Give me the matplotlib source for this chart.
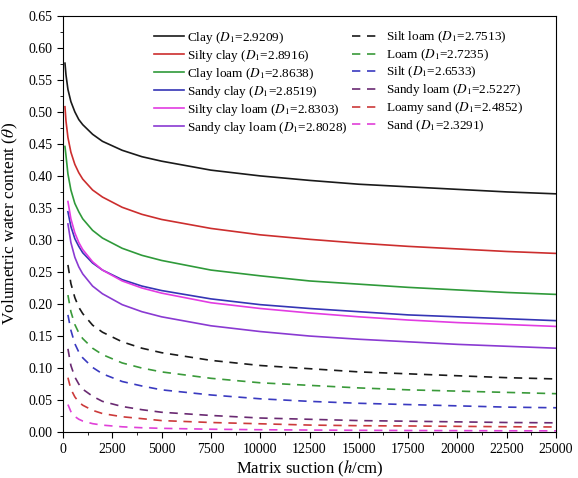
import matplotlib
matplotlib.use('Agg')
import matplotlib.pyplot as plt
from matplotlib.ticker import MultipleLocator

plt.rcParams['font.family'] = ['Liberation Serif', 'DejaVu Serif']
plt.rcParams['mathtext.fontset'] = 'stix'

# matrix suction points (h, cm)
h_fine = [100, 150, 250, 400, 600, 800, 1000, 1500, 2000, 3000, 4000, 5000,
          7500, 10000, 12500, 15000, 17500, 20000, 22500, 25000]
h_main = h_fine[2:]

# solid curves (fine-textured soils)
clay = [0.576, 0.558, 0.535, 0.516, 0.500, 0.488, 0.480, 0.465, 0.454, 0.440,
        0.430, 0.423, 0.409, 0.400, 0.393, 0.387, 0.383, 0.379, 0.375, 0.372]
silty_clay = [0.508, 0.486, 0.460, 0.437, 0.418, 0.405, 0.395, 0.378, 0.367, 0.351,
              0.340, 0.332, 0.318, 0.308, 0.301, 0.295, 0.290, 0.286, 0.282, 0.279]
clay_loam = [0.446, 0.432, 0.403, 0.378, 0.357, 0.344, 0.333, 0.315, 0.303, 0.287,
             0.276, 0.268, 0.253, 0.244, 0.236, 0.231, 0.226, 0.222, 0.218, 0.215]
sandy_clay = [0.344, 0.321, 0.302, 0.290, 0.280, 0.264, 0.253, 0.238, 0.228,
              0.221, 0.208, 0.199, 0.193, 0.188, 0.183, 0.180, 0.177, 0.174]
silty_clay_loam = [0.360, 0.333, 0.311, 0.296, 0.285, 0.266, 0.253, 0.236, 0.225,
                   0.217, 0.202, 0.193, 0.186, 0.180, 0.175, 0.171, 0.168, 0.165]
sandy_clay_loam = [0.325, 0.296, 0.273, 0.258, 0.247, 0.228, 0.216, 0.199, 0.188,
                   0.180, 0.166, 0.157, 0.150, 0.145, 0.141, 0.137, 0.134, 0.131]

# dashed curves (coarser soils)
silt_loam = [0.261, 0.232, 0.210, 0.195, 0.185, 0.167, 0.156, 0.141, 0.131,
             0.124, 0.112, 0.104, 0.099, 0.094, 0.091, 0.088, 0.085, 0.083]
loam = [0.214, 0.188, 0.168, 0.155, 0.146, 0.131, 0.121, 0.108, 0.100,
        0.094, 0.084, 0.077, 0.073, 0.069, 0.066, 0.064, 0.062, 0.060]
silt = [0.183, 0.159, 0.138, 0.125, 0.116, 0.101, 0.091, 0.079, 0.072,
        0.066, 0.058, 0.052, 0.048, 0.045, 0.043, 0.041, 0.039, 0.038]
sandy_loam = [0.130, 0.104, 0.086, 0.075, 0.067, 0.056, 0.048, 0.040, 0.035,
              0.031, 0.026, 0.022, 0.020, 0.018, 0.017, 0.016, 0.015, 0.0145]
loamy_sand = [0.085, 0.067, 0.055, 0.047, 0.042, 0.034, 0.029, 0.024, 0.021,
              0.018, 0.015, 0.013, 0.011, 0.010, 0.0096, 0.0090, 0.0084, 0.0080]
sand = [0.043, 0.032, 0.0244, 0.0201, 0.0173, 0.0132, 0.0109, 0.0083, 0.0068,
        0.0059, 0.0045, 0.0037, 0.0032, 0.0028, 0.0025, 0.0023, 0.0021, 0.0020]

solid = [
    ('Clay', '2.9209', h_fine, clay, '#1a1a1a'),
    ('Silty clay', '2.8916', h_fine, silty_clay, '#cc2e2e'),
    ('Clay loam', '2.8638', h_fine, clay_loam, '#2f9a3a'),
    ('Sandy clay', '2.8519', h_main, sandy_clay, '#3535b5'),
    ('Silty clay loam', '2.8303', h_main, silty_clay_loam, '#e23ce2'),
    ('Sandy clay loam', '2.8028', h_main, sandy_clay_loam, '#8a3ad2'),
]
dashed = [
    ('Silt loam', '2.7513', h_main, silt_loam, '#1a1a1a'),
    ('Loam', '2.7235', h_main, loam, '#3a9a3a'),
    ('Silt', '2.6533', h_main, silt, '#3a3ac0'),
    ('Sandy loam', '2.5227', h_main, sandy_loam, '#6a2a72'),
    ('Loamy sand', '2.4852', h_main, loamy_sand, '#cc3a3a'),
    ('Sand', '2.3291', h_main, sand, '#e040d8'),
]

fig, ax = plt.subplots(figsize=(5.78, 4.78), dpi=100)
fig.subplots_adjust(left=0.109, right=0.962, top=0.967, bottom=0.096)

for name, d, hh, vals, c in solid:
    ax.plot(hh, vals, color=c, lw=1.2, label=name + r' ($\mathit{D}_{\mathrm{1}}$=' + d + ')')
for name, d, hh, vals, c in dashed:
    ax.plot(hh, vals, color=c, lw=1.2, dashes=(5, 4),
            label=name + r' ($\mathit{D}_{\mathrm{1}}$=' + d + ')')

ax.set_xlim(0, 25000)
ax.set_ylim(0, 0.65)
ax.xaxis.set_major_locator(MultipleLocator(2500))
ax.xaxis.set_minor_locator(MultipleLocator(1250))
ax.yaxis.set_major_locator(MultipleLocator(0.05))
ax.yaxis.set_minor_locator(MultipleLocator(0.025))
ax.yaxis.set_major_formatter(matplotlib.ticker.FormatStrFormatter('%.2f'))
ax.tick_params(which='both', direction='out', labelsize=10)
ax.tick_params(which='major', length=4)
ax.tick_params(which='minor', length=2)

ax.set_xlabel(r'Matrix suction ($\mathit{h}$/cm)', fontsize=12, labelpad=2)
ax.set_ylabel(r'Volumetric water content ($\mathit{\theta}$)', fontsize=12.5, labelpad=6)

ax.legend(ncol=2, frameon=False, fontsize=9.5, loc='upper left',
          bbox_to_anchor=(0.16, 0.995), handlelength=2.3, handletextpad=0.25,
          columnspacing=0.3, labelspacing=0.15)

fig.savefig('out.png', dpi=100)
